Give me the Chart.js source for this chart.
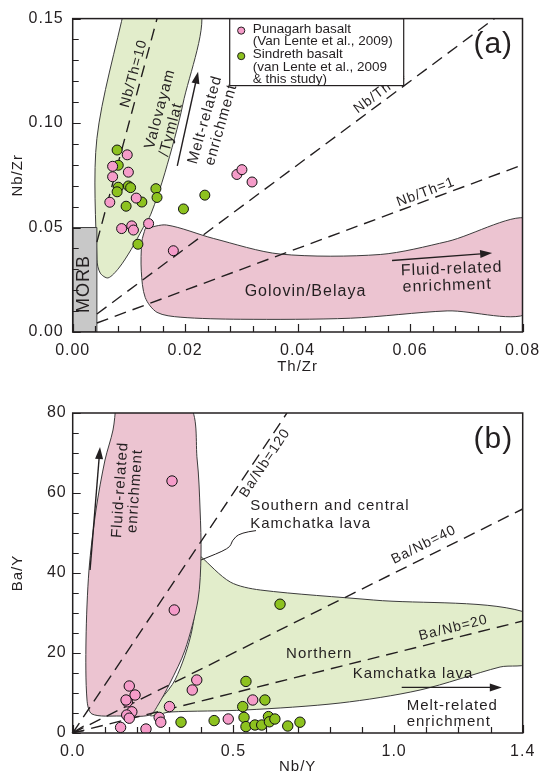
<!DOCTYPE html>
<html>
<head>
<meta charset="utf-8">
<title>Nb/Zr vs Th/Zr and Ba/Y vs Nb/Y</title>
<script src="https://cdn.jsdelivr.net/npm/chart.js@4.4.1/dist/chart.umd.min.js"></script>
<style>
  html, body { margin: 0; padding: 0; background: #fff; }
  .panel { position: absolute; left: 0; width: 551px; height: 388px; }
</style>
</head>
<body>
<div class="panel" style="top:0"><canvas id="chartA"></canvas></div>
<div class="panel" style="top:388px"><canvas id="chartB"></canvas></div>
<script>
const INK = '#231f20';
const FONT = '"Liberation Sans", Arial, sans-serif';
const PINK = '#f59cc9';
const GREEN = '#8dc21f';

// ---- panel (a): Th/Zr vs Nb/Zr ----
const punagarhThZr = [0.0097, 0.0071, 0.0099, 0.0071, 0.0066, 0.0113, 0.0087, 0.0105, 0.0108, 0.0135, 0.0179, 0.0292, 0.0301, 0.0319];
const punagarhNbZr = [0.0848, 0.0793, 0.0765, 0.0743, 0.0621, 0.0641, 0.0495, 0.0508, 0.0488, 0.0519, 0.0389, 0.0754, 0.0777, 0.0718];
const sindrethThZr = [0.0079, 0.0081, 0.0081, 0.0079, 0.0099, 0.0103, 0.0123, 0.0148, 0.0150, 0.0095, 0.0116, 0.0197, 0.0235];
const sindrethNbZr = [0.0871, 0.0798, 0.0693, 0.0671, 0.0699, 0.0691, 0.0622, 0.0686, 0.0644, 0.0602, 0.0420, 0.0589, 0.0655];

// field outlines
const valovayamThZr = [0.0093, 0.0225, 0.0196, 0.0164, 0.0139, 0.0125, 0.0104, 0.0082, 0.0063, 0.0049, 0.0043, 0.0043, 0.0093];
const valovayamNbZr = [0.1561, 0.1561, 0.1091, 0.0762, 0.0564, 0.0498, 0.0395, 0.0306, 0.0259, 0.0282, 0.0348, 0.0926, 0.1561];
const golovinThZr = [0.0129, 0.0167, 0.0250, 0.0369, 0.0547, 0.0666, 0.0814, 0.0814, 0.0666, 0.0494, 0.0298, 0.0191, 0.0150, 0.0129, 0.0122, 0.0123, 0.0129];
const golovinNbZr = [0.0495, 0.0512, 0.0448, 0.0373, 0.0371, 0.0433, 0.0536, 0.0099, 0.0101, 0.0066, 0.0061, 0.0071, 0.0094, 0.0165, 0.0291, 0.0433, 0.0495];
const morbThZr = [0, 0.0043, 0.0043, 0, 0];
const morbNbZr = [0, 0, 0.05, 0.05, 0];

// ratio lines Nb/Zr = k * Th/Zr
const nbThSlopes = [10, 2, 1];
const nbThStart = [0.0043, 0.0043, 0.0043];
const nbThEnd = [0.015, 0.075, 0.08];
const nbThNames = ['Nb/Th=10', 'Nb/Th=4', 'Nb/Th=1'];

// ---- panel (b): Nb/Y vs Ba/Y ----
const punagarhNbY = [0.309, 0.316, 0.176, 0.194, 0.170, 0.166, 0.184, 0.168, 0.176, 0.149, 0.228, 0.269, 0.274, 0.301, 0.386, 0.372, 0.484, 0.560];
const punagarhBaY = [63.0, 30.75, 11.75, 9.5, 7.8, 8.25, 5.3, 4.5, 3.7, 1.4, 1.0, 3.9, 2.7, 6.6, 13.25, 10.75, 3.5, 8.25];
const sindrethNbY = [0.337, 0.440, 0.539, 0.529, 0.533, 0.539, 0.645, 0.567, 0.588, 0.598, 0.609, 0.612, 0.629, 0.669, 0.707];
const sindrethBaY = [2.7, 3.1, 12.9, 6.6, 3.9, 1.6, 32.2, 2.0, 2.0, 8.25, 4.1, 2.8, 3.5, 1.75, 2.7];

const southNbY = [0.1347, 0.3590, 0.3873, 0.3963, 0.3992, 0.3898, 0.3494, 0.3027, 0.2654, 0.2405, 0.1472, 0.0600, 0.0445, 0.0414, 0.0507, 0.0725, 0.1005, 0.1254, 0.1347];
const southBaY = [82, 82, 68.25, 55.75, 44.5, 33.25, 20.75, 12.5, 7, 4.5, 4.25, 4.75, 8.25, 23.25, 40.75, 55.75, 68.25, 75.75, 82];
const northNbY = [0.3967, 0.4901, 0.5834, 0.9350, 1.4229, 1.4229, 1.3296, 1.0807, 0.8318, 0.5362, 0.3027, 0.2405, 0.3183, 0.3712, 0.3967];
const northBaY = [44.25, 37.75, 35.75, 33.25, 29.75, 17.75, 16.5, 10.75, 7.5, 5.75, 5.25, 4.5, 13.25, 25.75, 44.25];

// ratio lines Ba/Y = k * Nb/Y
const baNbSlopes = [120, 40, 20];
const baNbEnd = [0.6667, 1.4, 1.4];
const baNbNames = ['Ba/Nb=120', 'Ba/Nb=40', 'Ba/Nb=20'];

function pts(xs, ys) {
  return xs.map((v, i) => ({ x: v, y: ys[i] }));
}

function field(xs, ys, fillColor, order, tension) {
  return {
    data: pts(xs, ys), showLine: true, fill: 'shape', order: order,
    backgroundColor: fillColor, borderColor: '#3c3c3c', borderWidth: 1,
    tension: tension, pointRadius: 0
  };
}

function ratioLine(k, x0, x1) {
  return {
    data: [{ x: x0, y: k * x0 }, { x: x1, y: k * x1 }], showLine: true, order: 1,
    borderColor: INK, borderWidth: 1.4, borderDash: [12, 7], pointRadius: 0, fill: false
  };
}

function samples(xs, ys, color, r) {
  return {
    data: pts(xs, ys), order: 0, pointRadius: r, pointBackgroundColor: color,
    pointBorderColor: '#111', pointBorderWidth: 1, showLine: false
  };
}

// wider tracking on all canvas text
const tracking = {
  id: 'tracking',
  beforeUpdate(chart) { chart.ctx.letterSpacing = '1px'; },
  beforeDraw(chart) { chart.ctx.letterSpacing = '1px'; }
};

// box frame and inward tick marks
const frame = {
  id: 'frame',
  afterDraw(chart) {
    const { ctx, chartArea: a, scales: { x, y } } = chart;
    ctx.save();
    ctx.strokeStyle = INK;
    ctx.lineWidth = 1.5;
    ctx.strokeRect(a.left, a.top, a.width, a.height);
    ctx.lineWidth = 1.2;
    ctx.beginPath();
    x.ticks.forEach(t => {
      const px = Math.round(x.getPixelForValue(t.value)) + 0.5;
      ctx.moveTo(px, a.bottom);
      ctx.lineTo(px, a.bottom - (t.label ? 8 : 6));
    });
    y.ticks.forEach(t => {
      const py = Math.round(y.getPixelForValue(t.value)) + 0.5;
      ctx.moveTo(a.left, py);
      ctx.lineTo(a.left + (t.label ? 8 : 6), py);
    });
    ctx.stroke();
    ctx.restore();
  }
};

function arrow(ctx, x0, y0, x1, y1) {
  const ang = Math.atan2(y1 - y0, x1 - x0);
  ctx.beginPath();
  ctx.moveTo(x0, y0);
  ctx.lineTo(x1 - 8 * Math.cos(ang), y1 - 8 * Math.sin(ang));
  ctx.stroke();
  ctx.beginPath();
  ctx.moveTo(x1, y1);
  ctx.lineTo(x1 - 12 * Math.cos(ang) + 4 * Math.sin(ang), y1 - 12 * Math.sin(ang) - 4 * Math.cos(ang));
  ctx.lineTo(x1 - 12 * Math.cos(ang) - 4 * Math.sin(ang), y1 - 12 * Math.sin(ang) + 4 * Math.cos(ang));
  ctx.closePath();
  ctx.fill();
}

// field names, arrows, ratio-line labels, legend
const notes = {
  id: 'notes',
  afterDatasetsDraw(chart, args, o) {
    const { ctx, chartArea: a, scales: { x, y } } = chart;
    ctx.save();
    ctx.fillStyle = INK;
    ctx.strokeStyle = INK;
    ctx.lineWidth = 1.4;
    ctx.textBaseline = 'middle';

    (o.lineLabels || []).forEach(l => {
      const x0 = x.getPixelForValue(0), y0 = y.getPixelForValue(0);
      const x1 = x.getPixelForValue(l.at), y1 = y.getPixelForValue(l.k * l.at);
      const ang = Math.atan2(y1 - y0, x1 - x0);
      ctx.save();
      ctx.translate(x1 + l.off * Math.sin(ang), y1 - l.off * Math.cos(ang));
      ctx.rotate(ang);
      ctx.font = '14px ' + FONT;
      ctx.textAlign = 'center';
      ctx.fillText(l.text, 0, 0);
      ctx.restore();
    });

    (o.texts || []).forEach(t => {
      ctx.save();
      ctx.translate(x.getPixelForValue(t.x), y.getPixelForValue(t.y));
      ctx.rotate((t.rot || 0) * Math.PI / 180);
      ctx.font = (t.size || 15) + 'px ' + FONT;
      ctx.textAlign = t.align || 'center';
      ctx.fillText(t.text, 0, 0);
      ctx.restore();
    });

    (o.arrows || []).forEach(r => {
      arrow(ctx, x.getPixelForValue(r[0]), y.getPixelForValue(r[1]),
        x.getPixelForValue(r[2]), y.getPixelForValue(r[3]));
    });

    (o.curves || []).forEach(c => {
      const p = c.map(q => [x.getPixelForValue(q[0]), y.getPixelForValue(q[1])]);
      ctx.lineWidth = 1;
      ctx.beginPath();
      ctx.moveTo(p[0][0], p[0][1]);
      for (let i = 1; i < p.length - 1; i++) {
        const mx = (p[i][0] + p[i + 1][0]) / 2, my = (p[i][1] + p[i + 1][1]) / 2;
        ctx.quadraticCurveTo(p[i][0], p[i][1], mx, my);
      }
      ctx.lineTo(p[p.length - 1][0], p[p.length - 1][1]);
      ctx.stroke();
    });

    if (o.origin) {
      // small arrowhead where the ratio lines meet
      const ox = x.getPixelForValue(0), oy = y.getPixelForValue(0);
      ctx.lineWidth = 1.2;
      ctx.beginPath();
      ctx.moveTo(ox + 11, oy - 7);
      ctx.lineTo(ox + 1, oy - 1);
      ctx.lineTo(ox + 11, oy - 2);
      ctx.stroke();
    }

    if (o.legend) {
      const L = o.legend;
      const bx = a.left + L.left, by = a.top;
      ctx.fillStyle = '#fff';
      ctx.fillRect(bx, by, L.width, L.height);
      ctx.lineWidth = 1.2;
      ctx.strokeRect(bx, by, L.width, L.height);
      ctx.font = '13.5px ' + FONT;
      ctx.letterSpacing = '0px';
      ctx.textAlign = 'left';
      L.items.forEach((it, i) => {
        const cy = by + 12 + i * 25.5;
        ctx.beginPath();
        ctx.arc(bx + 11.5, cy, 3.6, 0, Math.PI * 2);
        ctx.fillStyle = it.color;
        ctx.fill();
        ctx.lineWidth = 1;
        ctx.stroke();
        ctx.fillStyle = INK;
        it.lines.forEach((s, j) => ctx.fillText(s, bx + 23, cy - 1.5 + j * 12.5));
      });
    }
    ctx.restore();
  }
};

function axes(xMin, xMax, xStep, xLab, yMin, yMax, yStep, yLab, xTitle, yTitle, yPad, xHeight) {
  return {
    x: {
      type: 'linear', min: xMin, max: xMax,
      grid: { display: false, drawTicks: false },
      border: { display: false },
      ticks: {
        stepSize: xStep, autoSkip: false, maxRotation: 0, padding: 9, color: INK,
        font: { size: 16, family: FONT },
        callback: v => xLab(v)
      },
      title: { display: true, text: xTitle, color: INK, font: { size: 15, family: FONT }, padding: { top: 0, bottom: xTitle === 'Th/Zr' ? 12 : 0 } },
      afterFit: s => { s.height = xHeight; }
    },
    y: {
      type: 'linear', min: yMin, max: yMax,
      grid: { display: false, drawTicks: false },
      border: { display: false },
      ticks: {
        stepSize: yStep, autoSkip: false, padding: yPad, color: INK,
        font: { size: 16, family: FONT },
        callback: v => yLab(v)
      },
      title: { display: true, text: yTitle, color: INK, font: { size: 15, family: FONT }, padding: { top: 9, bottom: 0 } },
      afterFit: s => { s.width = 72.7; }
    }
  };
}

const near = (v, m) => Math.abs(v / m - Math.round(v / m)) < 1e-6;

new Chart(document.getElementById('chartA'), {
  type: 'scatter',
  data: {
    datasets: [
      samples(punagarhThZr, punagarhNbZr, PINK, 5),
      samples(sindrethThZr, sindrethNbZr, GREEN, 5),
      ...nbThSlopes.map((k, i) => ratioLine(k, nbThStart[i], nbThEnd[i])),
      field(morbThZr, morbNbZr, '#c8c8c8', 2, 0),
      field(valovayamThZr, valovayamNbZr, '#e2edcb', 3, 0.3),
      field(golovinThZr, golovinNbZr, '#ecc4d1', 3, 0.3)
    ]
  },
  options: {
    responsive: true, maintainAspectRatio: false, animation: false, events: [],
    layout: { padding: { top: 13, right: 28.5, left: 0, bottom: 0 } },
    scales: axes(0, 0.08, 0.004, v => near(v, 0.02) ? v.toFixed(2) : '',
      0, 0.15, 0.01, v => near(v, 0.05) ? v.toFixed(2) : '', 'Th/Zr', 'Nb/Zr', 9, 56),
    plugins: {
      legend: { display: false }, tooltip: { enabled: false },
      notes: {
        lineLabels: [
          { text: nbThNames[0], k: nbThSlopes[0], at: 0.01227, off: 8 },
          { text: nbThNames[1], k: nbThSlopes[1], at: 0.0556, off: 9 },
          { text: nbThNames[2], k: nbThSlopes[2], at: 0.0633, off: 8 }
        ],
        texts: [
          { text: 'Valovayam', x: 0.01553, y: 0.1067, rot: -75 },
          { text: '/Tymlat', x: 0.01749, y: 0.0969, rot: -75 },
          { text: 'Melt-related', x: 0.02354, y: 0.1016, rot: -74 },
          { text: 'enrichment', x: 0.02639, y: 0.0992, rot: -74 },
          { text: 'MORB', x: 0.0021, y: 0.0230, rot: -90, size: 18 },
          { text: 'Golovin/Belaya', x: 0.0414, y: 0.0193, size: 16 },
          { text: 'Fluid-related', x: 0.0674, y: 0.0301, rot: -2, size: 16 },
          { text: 'enrichment', x: 0.0666, y: 0.0221, rot: -2, size: 16 },
          { text: '(a)', x: 0.0748, y: 0.1373, size: 30 }
        ],
        arrows: [
          [0.0186, 0.0795, 0.0223, 0.1246],
          [0.0568, 0.0342, 0.0746, 0.0378]
        ],
        legend: {
          left: 157, width: 174, height: 67,
          items: [
            { color: PINK, lines: ['Punagarh basalt', '(Van Lente et al., 2009)'] },
            { color: GREEN, lines: ['Sindreth basalt', '(van Lente et al., 2009', '& this study)'] }
          ]
        }
      }
    }
  },
  plugins: [tracking, notes, frame]
});

new Chart(document.getElementById('chartB'), {
  type: 'scatter',
  data: {
    datasets: [
      samples(punagarhNbY, punagarhBaY, PINK, 5.2),
      samples(sindrethNbY, sindrethBaY, GREEN, 5.2),
      ...baNbSlopes.map((k, i) => ratioLine(k, 0, baNbEnd[i])),
      field(southNbY, southBaY, '#ecc4d1', 2, 0.3),
      field(northNbY, northBaY, '#e2edcb', 3, 0.3)
    ]
  },
  options: {
    responsive: true, maintainAspectRatio: false, animation: false, events: [],
    layout: { padding: { top: 25, right: 28.3, left: 0, bottom: 0 } },
    scales: axes(0, 1.4, 0.1, v => [0, 0.5, 1, 1.4].some(m => Math.abs(v - m) < 1e-6) ? v.toFixed(1) : '',
      0, 80, 5, v => near(v, 20) ? String(v) : '', 'Nb/Y', 'Ba/Y', 6, 43),
    plugins: {
      legend: { display: false }, tooltip: { enabled: false },
      notes: {
        lineLabels: [
          { text: baNbNames[0], k: baNbSlopes[0], at: 0.5736, off: -9.6 },
          { text: baNbNames[1], k: baNbSlopes[1], at: 1.109, off: 12 },
          { text: baNbNames[2], k: baNbSlopes[2], at: 1.192, off: 10 }
        ],
        texts: [
          { text: 'Fluid-related', x: 0.1475, y: 60.75, rot: -86 },
          { text: 'enrichment', x: 0.194, y: 60.5, rot: -86 },
          { text: 'Southern and central', x: 0.5524, y: 56.75, align: 'left' },
          { text: 'Kamchatka lava', x: 0.5524, y: 52.25, align: 'left' },
          { text: 'Northern', x: 0.767, y: 19.9 },
          { text: 'Kamchatka lava', x: 1.059, y: 14.9 },
          { text: 'Melt-related', x: 1.039, y: 6.75, align: 'left' },
          { text: 'enrichment', x: 1.039, y: 2.8, align: 'left' },
          { text: '(b)', x: 1.3087, y: 73.25, size: 30 }
        ],
        arrows: [
          [0.054, 40.75, 0.085, 71.5],
          [1.0236, 11.4, 1.335, 11.4]
        ],
        curves: [
          [[0.5703, 50.6], [0.5205, 50.1], [0.4945, 48.0], [0.4894, 46.2], [0.3992, 43.25]]
        ],
        origin: true
      }
    }
  },
  plugins: [tracking, notes, frame]
});
</script>
</body>
</html>
